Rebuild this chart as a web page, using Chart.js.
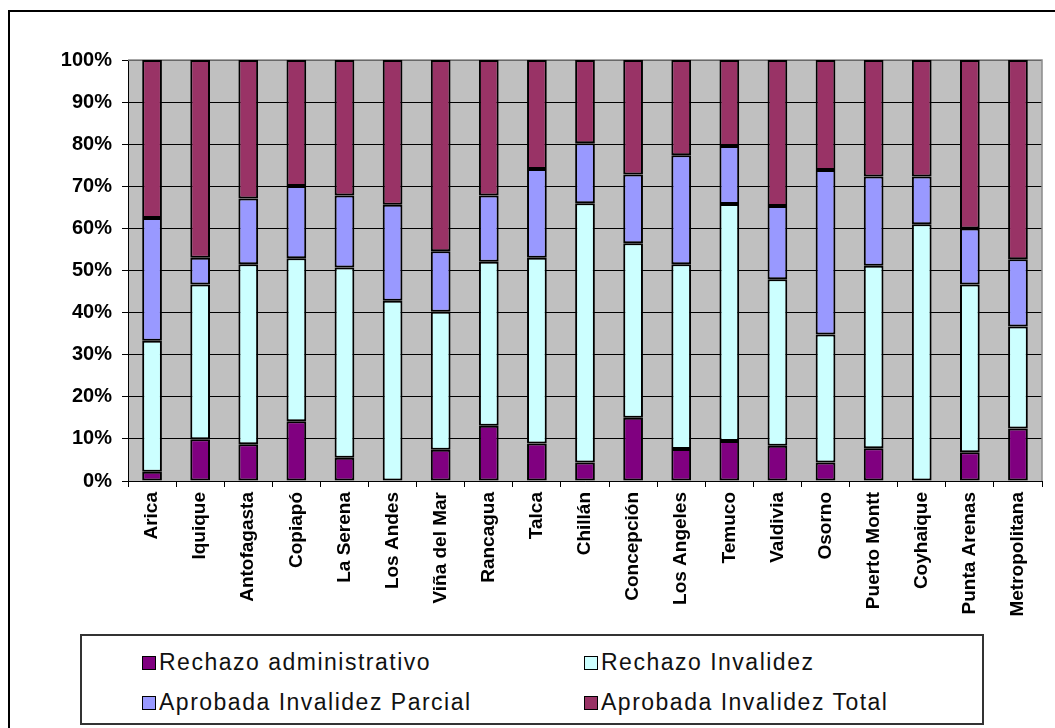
<!DOCTYPE html>
<html>
<head>
<meta charset="utf-8">
<script src="https://cdn.jsdelivr.net/npm/chart.js@4.4.1/dist/chart.umd.min.js"></script>
<style>
  body { margin: 0; background: #fff; font-family: Arial, "Liberation Sans", sans-serif; }
  #wrap { position: relative; width: 1055px; height: 728px; overflow: hidden; }
  #frame { position: absolute; left: 8px; top: 10px; width: 1100px; height: 800px; border: 2px solid #000; box-sizing: border-box; }
  #chartBox { position: absolute; left: 0; top: 0; width: 1055px; height: 728px; }
  #legend { position: absolute; left: 80px; top: 634px; width: 904px; height: 91px; border: 2px solid #333; box-sizing: border-box; background: #fff; }
  .item { position: absolute; font-size: 23px; letter-spacing: 1.5px; color: #111; white-space: nowrap; }
  .item span { display: inline-block; width: 12px; height: 12px; border: 1.5px solid #000; margin-right: 3px; vertical-align: 0px; }
</style>
</head>
<body>
<div id="wrap">
  <div id="frame"></div>
  <div id="chartBox"><canvas id="barChart"></canvas></div>
  <div id="legend"></div>
</div>
<script>
// categories
const regiones = ['Arica', 'Iquique', 'Antofagasta', 'Copiapó', 'La Serena', 'Los Andes', 'Viña del Mar',
    'Rancagua', 'Talca', 'Chillán', 'Concepción', 'Los Angeles', 'Temuco', 'Valdivia', 'Osorno',
    'Puerto Montt', 'Coyhaique', 'Punta Arenas', 'Metropolitana'];

// share of each outcome, %
const rechazoAdmin = [2.2, 9.9, 8.7, 14.2, 5.5, 0, 7.4, 13.1, 8.9, 4.4, 15.0, 7.6, 9.5, 8.4, 4.4, 7.8, 0, 6.8, 12.5];
const rechazoInvalidez = [31.1, 36.8, 42.8, 38.7, 45.2, 42.8, 32.8, 39.0, 44.1, 61.6, 41.5, 43.9, 56.3, 39.5, 30.4, 43.3, 61.0, 39.9, 24.2];
const aprobadaParcial = [29.2, 6.3, 15.6, 17.2, 17.1, 22.8, 14.4, 15.7, 21.1, 14.2, 16.3, 25.9, 13.8, 17.4, 39.1, 21.2, 11.3, 13.3, 16.0];
const aprobadaTotal = [37.5, 47.0, 32.9, 29.9, 32.2, 34.4, 45.4, 32.2, 25.9, 19.8, 27.2, 22.6, 20.4, 34.7, 26.1, 27.7, 27.7, 40.0, 47.3];

const seriesNames = ['Rechazo administrativo', 'Rechazo Invalidez', 'Aprobada Invalidez Parcial', 'Aprobada Invalidez Total'];
const seriesColors = ['#800080', '#CCFFFF', '#9999FF', '#993366'];
const yTicks = [0, 10, 20, 30, 40, 50, 60, 70, 80, 90, 100];

Chart.defaults.font.family = 'Arial, "Liberation Sans", sans-serif';
Chart.defaults.color = '#000';

// grey plot background like the old Excel chart
const plotBg = {
    id: 'plotBg',
    beforeDraw(chart) {
        const a = chart.chartArea;
        const ctx = chart.ctx;
        ctx.save();
        ctx.fillStyle = '#C0C0C0';
        ctx.fillRect(a.left, a.top, a.right - a.left, a.bottom - a.top);
        ctx.restore();
    },
    beforeDatasetsDraw(chart) {
        const a = chart.chartArea;
        const ctx = chart.ctx;
        ctx.save();
        ctx.strokeStyle = '#8a8a8a';
        ctx.lineWidth = 1.5;
        ctx.beginPath();
        ctx.moveTo(a.left, a.top);
        ctx.lineTo(a.right, a.top);
        ctx.lineTo(a.right, a.bottom);
        ctx.stroke();
        ctx.restore();
    }
};

const allData = [rechazoAdmin, rechazoInvalidez, aprobadaParcial, aprobadaTotal];

const barChart = new Chart(document.getElementById('barChart').getContext('2d'), {
    type: 'bar',
    data: {
        labels: regiones,
        datasets: allData.map((d, i) => ({
            label: seriesNames[i],
            data: d,
            backgroundColor: seriesColors[i],
            borderColor: '#000',
            borderWidth: 2,
            borderSkipped: false,
            barPercentage: 0.41,
            categoryPercentage: 1.0,
        }))
    },
    options: {
        responsive: true,
        maintainAspectRatio: false,
        animation: false,
        layout: { padding: { left: 0, top: 60, right: 13, bottom: 97 } },
        plugins: {
            legend: { display: false },
            tooltip: { enabled: false }
        },
        scales: {
            x: {
                stacked: true,
                afterFit: (s) => { s.height = 150; },
                grid: { display: true, drawOnChartArea: false, color: '#000', tickLength: 6, offset: true },
                border: { color: '#000', width: 1 },
                ticks: {
                    minRotation: 90,
                    maxRotation: 90,
                    padding: 5,
                    autoSkip: false,
                    font: { size: 19, weight: 'bold' }
                }
            },
            y: {
                stacked: true,
                min: 0,
                max: 100,
                afterFit: (s) => { s.width = 128; },
                afterBuildTicks: (s) => { s.ticks = yTicks.map(v => ({ value: v })); },
                grid: { color: '#000', lineWidth: 1, tickLength: 6, tickColor: '#000' },
                border: { color: '#000', width: 1 },
                ticks: {
                    padding: 10,
                    font: { size: 20, weight: 'bold' },
                    callback: (v) => v + '%'
                }
            }
        }
    },
    plugins: [plotBg]
});

// legend in two rows, two columns
const legendPos = [[60, 13], [502, 13], [60, 53], [502, 53]];
const legend = document.getElementById('legend');
seriesNames.forEach((name, i) => {
    const el = document.createElement('div');
    el.className = 'item';
    el.style.left = legendPos[i][0] + 'px';
    el.style.top = legendPos[i][1] + 'px';
    el.innerHTML = '<span style="background:' + seriesColors[i] + '"></span>' + name;
    legend.appendChild(el);
});
</script>
</body>
</html>
